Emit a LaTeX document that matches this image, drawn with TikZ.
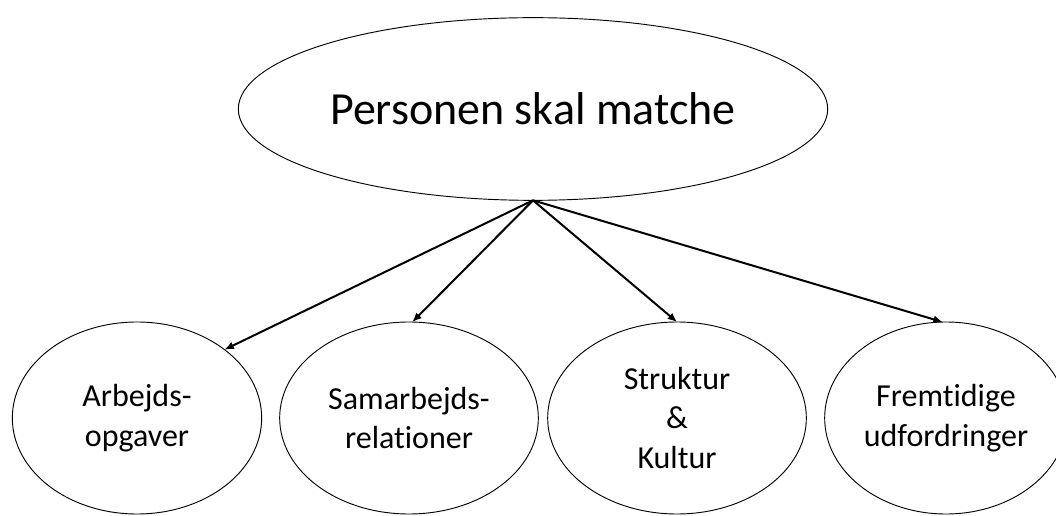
\documentclass[tikz,border=0pt]{standalone}
\usepackage{fontspec}
\setmainfont{Carlito}[Ligatures={NoCommon},RawFeature={-liga;-clig;-calt}]
\usetikzlibrary{shapes.geometric,arrows.meta}
\begin{document}
\begin{tikzpicture}[x=0.75pt,y=-0.75pt,
  oval/.style={ellipse,draw,line width=0.7pt,inner sep=0pt,outer sep=0pt,align=center},
  mainoval/.style={oval,minimum width=442pt,minimum height=137pt,font=\fontsize{34.5}{40}\selectfont},
  suboval/.style={oval,minimum height=144pt,font=\fontsize{24}{29.5}\selectfont},
  link/.style={line width=1.5pt,-{Latex[length=7pt,width=6pt]}}]
\useasboundingbox (0,0) rectangle (1056,516);

\node[mainoval] (top) at (533,109) {Personen skal matche};

\node[suboval,minimum width=187pt] (e1) at (137,418) {Arbejds-\\opgaver};
\node[suboval,minimum width=194pt] (e2) at (409,418) {Samarbejds-\\relationer};
\node[suboval,minimum width=194pt] (e3) at (677,418) {Struktur\\\&\\Kultur};
\node[suboval,minimum width=182pt] (e4) at (946,418) {Fremtidige\\udfordringer};

\draw[link] (top.south) -- (e1.38);
\draw[link] (top.south) -- (e2.88);
\draw[link] (top.south) -- (e3.north);
\draw[link] (top.south) -- (e4.92);
\end{tikzpicture}
\end{document}
